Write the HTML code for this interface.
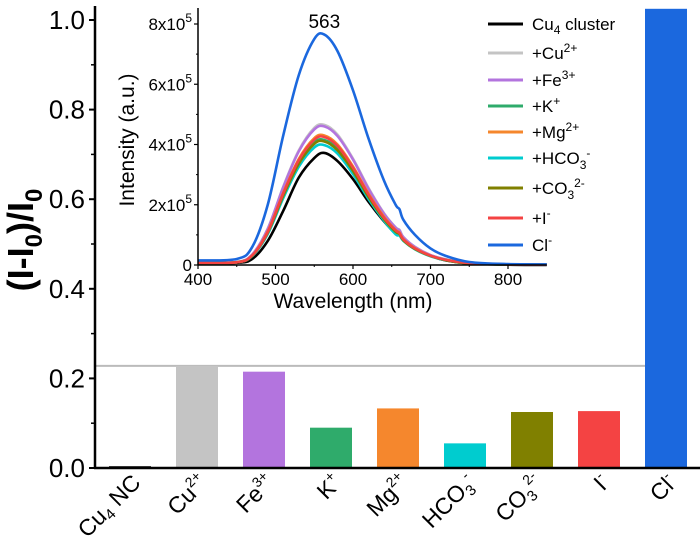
<!DOCTYPE html>
<html><head><meta charset="utf-8"><style>
html,body{margin:0;padding:0;background:#fff;}
svg{display:block;font-family:"Liberation Sans",Arial,sans-serif;}
</style></head><body>
<svg id="chart" width="700" height="544" viewBox="0 0 700 544" xmlns="http://www.w3.org/2000/svg">
<g id="main"></g>
<g id="inset"></g>
</svg>
<script>
// ---- Main bar chart data ----
const categories = ["Cu4 NC","Cu2+","Fe3+","K+","Mg2+","HCO3-","CO32-","I-","Cl-"];
const barValues = [0.004,0.228,0.215,0.090,0.133,0.055,0.125,0.127,1.025];
const barColors = ["#000000","#c4c4c4","#b374de","#2fab6b","#f5872d","#00cccf","#808000","#f44343","#1b68de"];
const yTicks = [0.0,0.2,0.4,0.6,0.8,1.0];
const refValue = 0.228;

// ---- Inset spectra data ----
const wavelengths = [400,450,470,490,510,530,550,563,580,600,620,640,655,660,665,680,700,720,750,800,850];
const sBlack = [0.05,0.07,0.2,0.8,1.8,2.9,3.55,3.72,3.45,2.85,2.1,1.45,1.05,1.05,0.85,0.55,0.3,0.15,0.05,0.01,0];
const sCu = [0.08,0.1,0.35,1.2,2.6,3.8,4.55,4.65,4.33,3.53,2.56,1.72,1.25,1.17,0.93,0.6,0.33,0.19,0.06,0.02,0.01];
const sFe = [0.08,0.1,0.35,1.2,2.58,3.77,4.5,4.6,4.28,3.5,2.53,1.7,1.24,1.15,0.92,0.6,0.33,0.18,0.06,0.02,0.01];
const sK = [0.07,0.09,0.3,1.08,2.32,3.4,4.07,4.15,3.86,3.15,2.28,1.54,1.12,1.04,0.83,0.54,0.3,0.17,0.05,0.02,0.01];
const sMg = [0.07,0.09,0.32,1.12,2.4,3.52,4.21,4.3,4.0,3.27,2.37,1.6,1.16,1.08,0.86,0.56,0.31,0.17,0.06,0.02,0.01];
const sHCO3 = [0.07,0.09,0.3,1.03,2.22,3.26,3.9,3.98,3.7,3.02,2.19,1.47,1.02,0.98,0.8,0.52,0.29,0.16,0.05,0.02,0.01];
const sCO3 = [0.07,0.09,0.31,1.07,2.3,3.36,4.02,4.1,3.81,3.12,2.26,1.52,1.1,1.03,0.82,0.53,0.3,0.16,0.05,0.02,0.01];
const sI = [0.07,0.09,0.32,1.1,2.38,3.48,4.16,4.25,3.95,3.23,2.34,1.57,1.15,1.06,0.85,0.55,0.31,0.17,0.06,0.02,0.01];
const sCl = [0.15,0.2,0.6,2.0,4.3,6.3,7.5,7.65,7.1,5.8,4.2,2.8,2.0,1.85,1.5,1.0,0.55,0.3,0.1,0.03,0.02];
const insetXTicks = [400,500,600,700,800];
const insetYTicks = [0,2,4,6,8];

const NS="http://www.w3.org/2000/svg";
function mk(tag, parent, attrs){const e=document.createElementNS(NS,tag);for(const k in attrs)e.setAttribute(k,attrs[k]);parent.appendChild(e);return e;}

const main=document.getElementById('main');
const X0=95, X1=700, Y0=468, Y1=20;
function yS(v){return Y0-v*(Y0-Y1);}
const step=67, firstC=130, bw=42;
function xC(i){return firstC+i*step;}

const ref=mk('line',main,{x1:X0,x2:xC(8)-bw/2,y1:yS(refValue),y2:yS(refValue),stroke:'#bbbbbb','stroke-width':2});



barValues.forEach((v,i)=>{
  const r=mk('rect',main,{x:xC(i)-bw/2,y:yS(v),width:bw,height:Math.max(Y0-yS(v),1),fill:barColors[i]});
  
  
});

const ax=mk('line',main,{x1:X0,x2:X0,y1:6,y2:Y0+1,stroke:'#000','stroke-width':2.5});


const xax=mk('line',main,{x1:X0-1,x2:X1,y1:Y0,y2:Y0,stroke:'#000','stroke-width':2.5});



yTicks.forEach(t=>{
  const y=yS(t);
  mk('line',main,{x1:X0-6,x2:X0,y1:y,y2:y,stroke:'#000','stroke-width':2});
  const tx=mk('text',main,{x:X0-10,y:y+9,'text-anchor':'end','font-size':26,fill:'#000'});
  tx.textContent=t.toFixed(1);
  
  
});
[0.1,0.3,0.5,0.7,0.9].forEach(t=>{mk('line',main,{x1:X0-4,x2:X0,y1:yS(t),y2:yS(t),stroke:'#000','stroke-width':1.5});});

const yt=mk('text',main,{x:0,y:0,transform:'translate(33,240) rotate(-90)','text-anchor':'middle','font-size':36,'font-weight':'bold',fill:'#000'});
yt.innerHTML='(I-I<tspan font-size="24" dy="9">0</tspan><tspan dy="-9">)/I</tspan><tspan font-size="24" dy="9">0</tspan>';



const labelHTML=['Cu<tspan font-size="15" dy="4">4</tspan><tspan dy="-4"> NC</tspan>',
 'Cu<tspan font-size="14" dy="-10">2+</tspan>','Fe<tspan font-size="14" dy="-10">3+</tspan>','K<tspan font-size="14" dy="-10">+</tspan>',
 'Mg<tspan font-size="14" dy="-10">2+</tspan>','HCO<tspan font-size="15" dy="5">3</tspan><tspan font-size="14" dy="-15">-</tspan>',
 'CO<tspan font-size="15" dy="5">3</tspan><tspan font-size="14" dy="-15">2-</tspan>','I<tspan font-size="14" dy="-10">-</tspan>','Cl<tspan font-size="14" dy="-10">-</tspan>'];
categories.forEach((c,i)=>{
  const x=xC(i)+12, y=484;
  const t=mk('text',main,{x:0,y:0,transform:`translate(${x},${y}) rotate(-45)`,'text-anchor':'end','font-size':23,fill:'#000'});
  t.innerHTML=labelHTML[i];
  
  
});

const inset=document.getElementById('inset');
const IX0=198, IY0=265;
function ix(w){return IX0+(w-400)*(508-198)/400;}
function iy(v){return IY0-v*(265-24)/8;}
const series=[[sBlack,'#000000'],[sCu,'#c4c4c4'],[sFe,'#b374de'],[sK,'#2fab6b'],[sMg,'#f5872d'],[sHCO3,'#00cccf'],[sCO3,'#808000'],[sI,'#f44343'],[sCl,'#1b68de']];
const sNames=['Cu4 cluster','+Cu2+','+Fe3+','+K+','+Mg2+','+HCO3-','+CO32-','+I-','Cl-'];
function smoothPath(xs,ys){
  let d=`M${xs[0]},${ys[0]}`;
  for(let i=0;i<xs.length-1;i++){
    const x0=xs[Math.max(i-1,0)],y0=ys[Math.max(i-1,0)],x1=xs[i],y1=ys[i],x2=xs[i+1],y2=ys[i+1],x3=xs[Math.min(i+2,xs.length-1)],y3=ys[Math.min(i+2,xs.length-1)];
    d+=` C${x1+(x2-x0)/6},${y1+(y2-y0)/6} ${x2-(x3-x1)/6},${y2-(y3-y1)/6} ${x2},${y2}`;
  }
  return d;
}
series.forEach(([vals,col],k)=>{
  const p=mk('path',inset,{d:smoothPath(wavelengths.map(ix),vals.map(iy)),fill:'none',stroke:col,'stroke-width':2.6,'stroke-linejoin':'round'});
  
  
});
const iya=mk('line',inset,{x1:IX0,x2:IX0,y1:8,y2:IY0,stroke:'#000','stroke-width':1.5});


const ixa=mk('line',inset,{x1:IX0,x2:ix(850),y1:IY0,y2:IY0,stroke:'#000','stroke-width':1.5});


insetXTicks.forEach(w=>{
  mk('line',inset,{x1:ix(w),x2:ix(w),y1:IY0,y2:IY0+4,stroke:'#000','stroke-width':1.2});
  const t=mk('text',inset,{x:ix(w),y:IY0+20,'text-anchor':'middle','font-size':17,fill:'#000'});
  t.textContent=w;
  
  
});
[450,550,650,750].forEach(w=>mk('line',inset,{x1:ix(w),x2:ix(w),y1:IY0,y2:IY0+2,stroke:'#000','stroke-width':1}));
insetYTicks.forEach(v=>{
  mk('line',inset,{x1:IX0-4,x2:IX0,y1:iy(v),y2:iy(v),stroke:'#000','stroke-width':1.2});
  const t=mk('text',inset,{x:IX0-6,y:iy(v)+6,'text-anchor':'end','font-size':17,fill:'#000'});
  t.innerHTML = v===0?'0':v+'x10<tspan font-size="12" dy="-8">5</tspan>';
  
  
});
[1,3,5,7].forEach(v=>mk('line',inset,{x1:IX0-2,x2:IX0,y1:iy(v),y2:iy(v),stroke:'#000','stroke-width':1}));
const ixt=mk('text',inset,{x:ix(600),y:308,'text-anchor':'middle','font-size':21,fill:'#000'});
ixt.textContent='Wavelength (nm)';


const iyt=mk('text',inset,{x:0,y:0,transform:'translate(134,140) rotate(-90)','text-anchor':'middle','font-size':21,fill:'#000'});
iyt.textContent='Intensity (a.u.)';


const pk=mk('text',inset,{x:ix(563),y:28,'text-anchor':'middle','font-size':19,fill:'#000'});
pk.textContent='563';



const legY=[24,53,80,106,132,158,188,218,245];
const legHTML=['Cu<tspan font-size="12" dy="4">4</tspan><tspan dy="-4"> cluster</tspan>','+Cu<tspan font-size="12" dy="-7">2+</tspan>','+Fe<tspan font-size="12" dy="-7">3+</tspan>','+K<tspan font-size="12" dy="-7">+</tspan>','+Mg<tspan font-size="12" dy="-7">2+</tspan>','+HCO<tspan font-size="12" dy="5">3</tspan><tspan font-size="12" dy="-12">-</tspan>','+CO<tspan font-size="12" dy="5">3</tspan><tspan font-size="12" dy="-12">2-</tspan>','+I<tspan font-size="12" dy="-7">-</tspan>','Cl<tspan font-size="12" dy="-7">-</tspan>'];
series.forEach(([v,col],k)=>{
  const g=mk('g',inset,{});
  
  
  mk('line',g,{x1:488,x2:523,y1:legY[k],y2:legY[k],stroke:col,'stroke-width':3});
  const t=mk('text',g,{x:532,y:legY[k]+6,'font-size':17,fill:'#000'});
  t.innerHTML=legHTML[k];
});
</script>
</body></html>
